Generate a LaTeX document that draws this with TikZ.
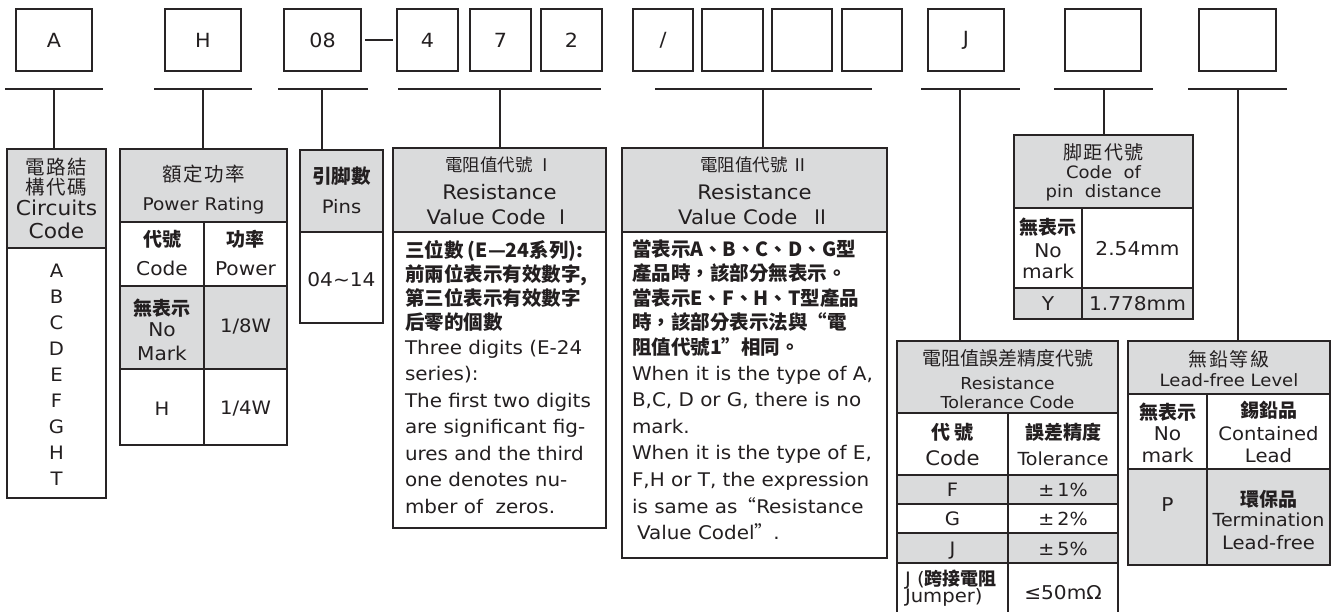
\documentclass[tikz,border=0pt]{standalone}
\usepackage{fontspec}
\setmainfont{DejaVu Sans}[FakeStretch=1.06]
\newfontfamily\cjk{Noto Sans CJK TC}
\newfontfamily\cjksp{Noto Sans CJK TC}[LetterSpace=8]
\newcommand\fsz[1]{\fontsize{#1}{#1}\selectfont}
\definecolor{lc}{RGB}{40,36,37}
\definecolor{tc}{RGB}{35,31,32}
\definecolor{hg}{RGB}{218,219,220}
\tikzset{
  topbox/.style={draw=lc, line width=1.8pt, inner sep=0pt, outer sep=0pt, minimum height=62pt, text=tc, font={\fsz{19.5}}},
  bar/.style={draw=lc, line width=1.7pt},
  vline/.style={draw=lc, line width=1.5pt},
  cellst/.style={draw=lc, line width=1.6pt, inner sep=0pt, outer sep=0pt},
  outer/.style={draw=lc, line width=2.8pt},
  tx/.style={anchor=base, inner sep=0pt, outer sep=0pt, text=tc},
  txl/.style={tx, anchor=base west},
}
\newcommand\mycell[6]{\node[cellst, fill=#2, minimum width={#5pt-#3pt}, minimum height={#6pt-#4pt}] (#1) at ({(#3+#5)/2},{(#4+#6)/2}) {};}
\begin{document}
\begin{tikzpicture}[x=1pt,y=-1pt]
\fill[white] (0,0) rectangle (1337,612);
\useasboundingbox (0,0) rectangle (1337,612);

% ---------- top boxes ----------
\node[topbox, minimum width=76pt] (bA) at (54,40) {A};
\node[topbox, minimum width=76pt] (bH) at (203,40) {H};
\node[topbox, minimum width=77pt] (b08) at (322.5,40) {08};
\node[topbox, minimum width=61pt] (b4) at (427.5,40) {4};
\node[topbox, minimum width=61pt] (b7) at (500.5,40) {7};
\node[topbox, minimum width=61pt] (b2) at (571.5,40) {2};
\node[topbox, minimum width=60pt] (bS) at (663,40) {/};
\node[topbox, minimum width=61pt] (bE1) at (732.5,40) {};
\node[topbox, minimum width=60pt] (bE2) at (802,40) {};
\node[topbox, minimum width=60pt] (bE3) at (872,40) {};
\node[topbox, minimum width=76pt] (bJ) at (966,40) {J};
\node[topbox, minimum width=76pt] (bE4) at (1103,40) {};
\node[topbox, minimum width=77pt] (bE5) at (1237.5,40) {};
\draw[draw=lc, line width=2.6pt] ([xshift=4pt]b08.east) -- ([xshift=-4pt]b4.west);

% ---------- table 1 : circuits code ----------
\mycell{t1h}{hg}{7}{149}{106}{248}
\mycell{t1b}{white}{7}{248}{106}{498}
\draw[outer] (t1h.north west) rectangle (t1b.south east);
\node[tx, font={\cjksp\fsz{19.5}}] (t1a) at (56.5,174.5) {電路結};
\node[tx, font={\cjksp\fsz{19.5}}] (t1c) at (56.5,194.5) {構代碼};
\node[tx, font={\fsz{20.5}}] (t1d) at (56.5,215) {Circuits};
\node[tx, font={\fsz{20.5}}] (t1e) at (56.5,239) {Code};
\foreach \l [count=\i from 0] in {A,B,C,D,E,F,G,H,T}
  \node[tx, font={\fsz{18.5}}] (t1l\i) at (56.5,277+26*\i) {\l};

% ---------- table 2 : power rating ----------
\mycell{t2h}{hg}{120}{149}{287}{222}
\mycell{t2a}{white}{120}{222}{204}{286}
\mycell{t2b}{white}{204}{222}{287}{286}
\mycell{t2c}{hg}{120}{286}{204}{369}
\mycell{t2d}{hg}{204}{286}{287}{369}
\mycell{t2e}{white}{120}{369}{204}{445}
\mycell{t2f}{white}{204}{369}{287}{445}
\draw[outer] (t2h.north west) rectangle (t2f.south east);
\node[tx, font={\cjksp\fsz{19.5}}] (t2t1) at (203.5,182) {額定功率};
\node[tx, font={\fsz{17.5}}] (t2t2) at (203.5,211) {Power Rating};
\node[tx, font={\cjk\bfseries\fsz{19}}] (t2t3) at (162,247) {代號};
\node[tx, font={\fsz{19}}] (t2t4) at (162,275) {Code};
\node[tx, font={\cjk\bfseries\fsz{19}}] (t2t5) at (245.5,247) {功率};
\node[tx, font={\fsz{19}}] (t2t6) at (245.5,275) {Power};
\node[tx, font={\cjk\bfseries\fsz{19}}] (t2t7) at (162,315) {無表示};
\node[tx, font={\fsz{19}}] (t2t8) at (162,336) {No};
\node[tx, font={\fsz{19}}] (t2t9) at (162,360) {Mark};
\node[tx, font={\fsz{18.5}}] (t2t10) at (245.5,332) {1/8W};
\node[tx, font={\fsz{18.5}}] (t2t11) at (162,415) {H};
\node[tx, font={\fsz{18.5}}] (t2t12) at (245.5,414) {1/4W};

% ---------- table 3 : pins ----------
\mycell{t3h}{hg}{300}{150}{383}{232}
\mycell{t3b}{white}{300}{232}{383}{323}
\draw[outer] (t3h.north west) rectangle (t3b.south east);
\node[tx, font={\cjk\bfseries\fsz{19.5}}] (t3t1) at (341.5,184) {引脚數};
\node[tx, font={\fsz{18.5}}] (t3t2) at (341.5,214) {Pins};
\node[tx, font={\fsz{19}}] (t3t3) at (341.5,286) {04\textasciitilde14};

% ---------- table 4 : resistance value code I ----------
\mycell{t4h}{hg}{393}{148}{606}{232}
\mycell{t4b}{white}{393}{232}{606}{528}
\draw[outer] (t4h.north west) rectangle (t4b.south east);
\node[tx, font={\cjk\fsz{17.5}}] (t4t1) at (499.5,172) {電阻值代號 Ⅰ};
\node[tx, font={\fsz{20}}] (t4t2) at (499.5,200) {Resistance};
\node[tx, font={\fsz{20}}] (t4t3) at (499.5,225) {Value Code {\cjk Ⅰ}};
\foreach \s [count=\i from 0] in {{三位數 (E—24系列):},{前兩位表示有效數字,},{第三位表示有效數字},{后零的個數}}
  \node[txl, font={\cjk\bfseries\fsz{19.5}}] (t4c\i) at (405,257.5+24*\i) {\s};
\foreach \s [count=\i from 0] in {{Three digits (E-24},{series):},{The first two digits},{are significant fig-},{ures and the third},{one denotes nu-},{mber of\ \ zeros.}}
  \node[txl, font={\fsz{18.8}}] (t4e\i) at (405,354+26.5*\i) {\s};

% ---------- table 5 : resistance value code II ----------
\mycell{t5h}{hg}{622}{148}{887}{232}
\mycell{t5b}{white}{622}{232}{887}{558}
\draw[outer] (t5h.north west) rectangle (t5b.south east);
\node[tx, font={\cjk\fsz{17.5}}] (t5t1) at (754.5,172) {電阻值代號 Ⅱ};
\node[tx, font={\fsz{20}}] (t5t2) at (754.5,200) {Resistance};
\node[tx, font={\fsz{20}}] (t5t3) at (754.5,225) {Value Code\ \ {\cjk Ⅱ}};
\foreach \s [count=\i from 0] in {{當表示A、B、C、D、G型},{產品時，該部分無表示。},{當表示E、F、H、T型產品},{時，該部分表示法與“電},{阻值代號1”相同。}}
  \node[txl, font={\cjk\bfseries\fsz{19.5}}] (t5c\i) at (632,256.5+24.4*\i) {\s};
\foreach \s [count=\i from 0] in {{When it is the type of A,},{B,C, D or G, there is no},{mark.},{When it is the type of E,},{F,H or T, the expression},{is same as{\cjk “}Resistance},{\hspace{5pt}Value Codel{\cjk ”}.}}
  \node[txl, font={\fsz{18.8}}] (t5e\i) at (632,380+26.6*\i) {\s};

% ---------- pitch table ----------
\mycell{pph}{hg}{1014}{135}{1193}{208}
\mycell{ppa}{white}{1014}{208}{1082}{288}
\mycell{ppb}{white}{1082}{208}{1193}{288}
\mycell{ppc}{hg}{1014}{288}{1082}{319}
\mycell{ppd}{hg}{1082}{288}{1193}{319}
\draw[outer] (pph.north west) rectangle (ppd.south east);
\node[tx, font={\cjksp\fsz{19}}] (pp1) at (1103.5,160) {脚距代號};
\node[tx, font={\fsz{17}}] (pp2) at (1103.5,178.5) {Code\ \ of};
\node[tx, font={\fsz{17}}] (pp3) at (1103.5,198) {pin\ \ distance};
\node[tx, font={\cjk\bfseries\fsz{19}}] (pp4) at (1048,235) {無表示};
\node[tx, font={\fsz{19}}] (pp5) at (1048,257) {No};
\node[tx, font={\fsz{19}}] (pp6) at (1048,278) {mark};
\node[tx, font={\fsz{19}}] (pp7) at (1137.5,255) {2.54mm};
\node[tx, font={\fsz{19}}] (pp8) at (1048,310) {Y};
\node[tx, font={\fsz{19}}] (pp9) at (1137.5,310) {1.778mm};

% ---------- tolerance table ----------
\mycell{tlh}{hg}{897}{341}{1118}{413}
\mycell{tla}{white}{897}{413}{1008}{475}
\mycell{tlb}{white}{1008}{413}{1118}{475}
\mycell{tlc}{hg}{897}{475}{1008}{504}
\mycell{tld}{hg}{1008}{475}{1118}{504}
\mycell{tle}{white}{897}{504}{1008}{533}
\mycell{tlf}{white}{1008}{504}{1118}{533}
\mycell{tlg}{hg}{897}{533}{1008}{563}
\mycell{tlk}{hg}{1008}{533}{1118}{563}
\mycell{tli}{white}{897}{563}{1008}{616}
\mycell{tlj}{white}{1008}{563}{1118}{616}
\draw[outer] (tlh.north west) rectangle (tlj.south east);
\node[tx, font={\cjk\fsz{19}}] (tl1) at (1007.5,365) {電阻值誤差精度代號};
\node[tx, font={\fsz{16.5}}] (tl2) at (1007.5,389.5) {Resistance};
\node[tx, font={\fsz{16.5}}] (tl3) at (1007.5,408.5) {Tolerance Code};
\node[tx, font={\cjk\bfseries\fsz{19}}] (tl4) at (952.5,439) {代\ 號};
\node[tx, font={\fsz{20}}] (tl5) at (952.5,465) {Code};
\node[tx, font={\cjk\bfseries\fsz{19}}] (tl6) at (1063,439) {誤差精度};
\node[tx, font={\fsz{18}}] (tl7) at (1063,465) {Tolerance};
\node[tx, font={\fsz{18.5}}] (tl8) at (952.5,496) {F};
\node[tx, font={\fsz{18}}] (tl9) at (1063,496) {±\,1\%};
\node[tx, font={\fsz{18.5}}] (tl10) at (952.5,525) {G};
\node[tx, font={\fsz{18}}] (tl11) at (1063,525) {±\,2\%};
\node[tx, font={\fsz{18.5}}] (tl12) at (952.5,555) {J};
\node[tx, font={\fsz{18}}] (tl13) at (1063,555) {±\,5\%};
\node[txl, font={\fsz{18.5}}] (tl14) at (905,585) {J ({\cjk\bfseries\fsz{18}跨接電阻}};
\node[txl, font={\fsz{18.5}}] (tl15) at (905,602) {Jumper)};
\node[tx, font={\fsz{19}}] (tl16) at (1063,599) {≤50mΩ};

% ---------- lead-free table ----------
\mycell{lfh}{hg}{1128}{341}{1330}{394}
\mycell{lfa}{white}{1128}{394}{1207}{469}
\mycell{lfb}{white}{1207}{394}{1330}{469}
\mycell{lfc}{hg}{1128}{469}{1207}{565}
\mycell{lfd}{hg}{1207}{469}{1330}{565}
\draw[outer] (lfh.north west) rectangle (lfd.south east);
\node[tx, font={\cjksp\fsz{19}}] (lf1) at (1229,366) {無鉛等級};
\node[tx, font={\fsz{17}}] (lf2) at (1229,386.5) {Lead-free Level};
\node[tx, font={\cjk\bfseries\fsz{19}}] (lf3) at (1167.5,419) {無表示};
\node[tx, font={\fsz{19}}] (lf4) at (1167.5,440) {No};
\node[tx, font={\fsz{19}}] (lf5) at (1167.5,462) {mark};
\node[tx, font={\cjk\bfseries\fsz{19}}] (lf6) at (1268.5,417) {錫鉛品};
\node[tx, font={\fsz{18.5}}] (lf7) at (1268.5,440) {Contained};
\node[tx, font={\fsz{18.5}}] (lf8) at (1268.5,462) {Lead};
\node[tx, font={\fsz{19}}] (lf9) at (1167.5,511) {P};
\node[tx, font={\cjk\bfseries\fsz{19}}] (lf10) at (1268.5,506) {環保品};
\node[tx, font={\fsz{18}}] (lf11) at (1268.5,526) {Termination};
\node[tx, font={\fsz{18.5}}] (lf12) at (1268.5,549) {Lead-free};

% ---------- group bars and connectors ----------
\coordinate (g1l) at (5,89);    \coordinate (g1r) at (103,89);  \coordinate (g1m) at (54,89);
\coordinate (g2l) at (154,89);  \coordinate (g2r) at (252,89);  \coordinate (g2m) at (203,89);
\coordinate (g3l) at (278,89);  \coordinate (g3r) at (368,89);  \coordinate (g3m) at (322,89);
\coordinate (g4l) at (398,89);  \coordinate (g4r) at (601,89);  \coordinate (g4m) at (500,89);
\coordinate (g5l) at (655,89);  \coordinate (g5r) at (872,89);  \coordinate (g5m) at (763,89);
\coordinate (g6l) at (921,89);  \coordinate (g6r) at (1020,89); \coordinate (g6m) at (960,89);
\coordinate (g7l) at (1054,89); \coordinate (g7r) at (1153,89); \coordinate (g7m) at (1104,89);
\coordinate (g8l) at (1188,89); \coordinate (g8r) at (1287,89); \coordinate (g8m) at (1238,89);
\foreach \g in {1,...,8} \draw[bar] (g\g l) -- (g\g r);
\draw[vline] (g1m) -- (g1m |- t1h.north);
\draw[vline] (g2m) -- (g2m |- t2h.north);
\draw[vline] (g3m) -- (g3m |- t3h.north);
\draw[vline] (g4m) -- (g4m |- t4h.north);
\draw[vline] (g5m) -- (g5m |- t5h.north);
\draw[vline] (g6m) -- (g6m |- tlh.north);
\draw[vline] (g7m) -- (g7m |- pph.north);
\draw[vline] (g8m) -- (g8m |- lfh.north);
\end{tikzpicture}
\end{document}
